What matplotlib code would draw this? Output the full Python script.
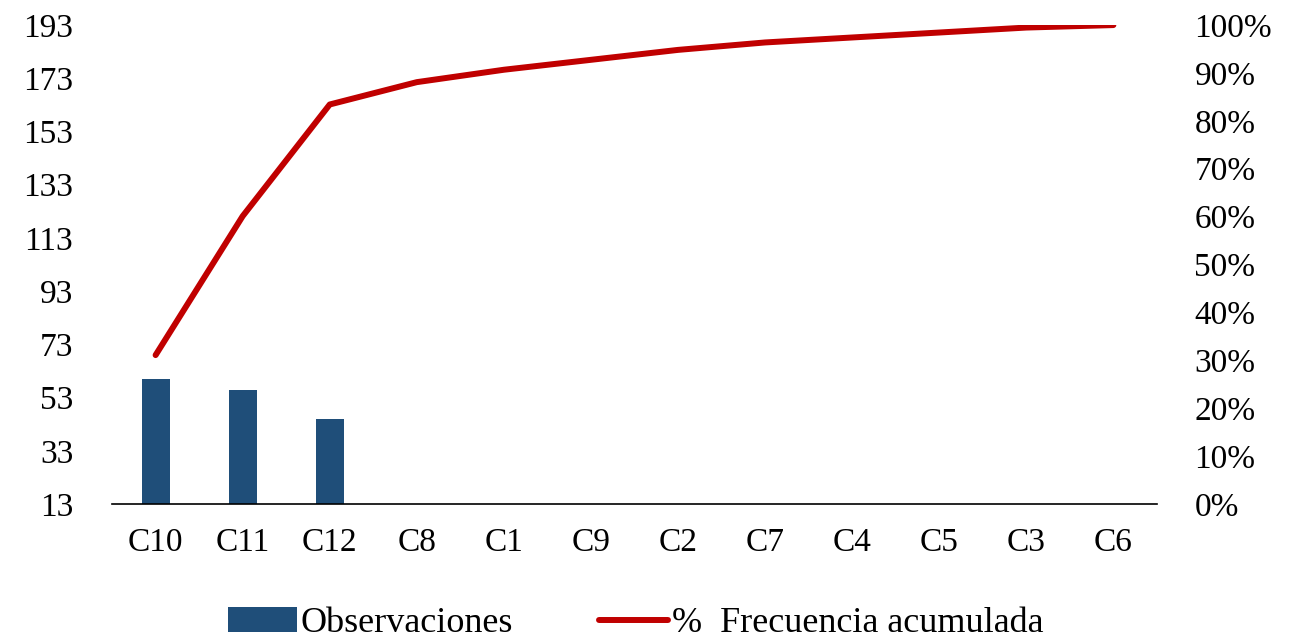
import matplotlib
matplotlib.use("Agg")
import matplotlib.pyplot as plt
from matplotlib.ticker import FuncFormatter
import numpy as np

categories = ["C10", "C11", "C12", "C8", "C1", "C9", "C2", "C7", "C4", "C5", "C3", "C6"]
observaciones = [60, 56, 45, 9, 5, 4, 4, 3, 2, 2, 2, 1]
left_ticks = [13, 33, 53, 73, 93, 113, 133, 153, 173, 193]
right_ticks = [0, 10, 20, 30, 40, 50, 60, 70, 80, 90, 100]

total = sum(observaciones)
acumulada = np.cumsum(observaciones) / total * 100

plt.rcParams["font.family"] = ["Liberation Serif", "DejaVu Serif"]

bar_color = "#1F4E79"
line_color = "#C00000"

fig = plt.figure(figsize=(12.97, 6.43), dpi=100)
ax = fig.add_axes([0.0864, 0.2162, 0.8056, 0.7448])
x = np.arange(len(categories))

bars = ax.bar(x, observaciones, width=0.32, color=bar_color, label="Observaciones", zorder=2)
ax.set_xlim(-0.5, len(categories) - 0.5)
ax.set_ylim(13, 193)
ax.set_yticks(left_ticks)
ax.set_xticks(x)
ax.set_xticklabels(categories)
ax.tick_params(axis="y", length=0, pad=28, labelsize=24)
ax.tick_params(axis="x", length=0, pad=17, labelsize=24)
for side in ["top", "left", "right"]:
    ax.spines[side].set_visible(False)
ax.spines["bottom"].set_color("black")
ax.spines["bottom"].set_linewidth(1.2)

ax2 = ax.twinx()
line, = ax2.plot(x, acumulada, color=line_color, lw=4.3, solid_capstyle="round",
                 label="%  Frecuencia acumulada", zorder=3)
ax2.set_ylim(0, 100)
ax2.set_yticks(right_ticks)
ax2.yaxis.set_major_formatter(FuncFormatter(lambda v, p: f"{v:.0f}%"))
ax2.tick_params(axis="y", length=0, pad=27, labelsize=24)
for side in ["top", "left", "right", "bottom"]:
    ax2.spines[side].set_visible(False)

fig.legend([bars, line], ["Observaciones", "%  Frecuencia acumulada"],
           loc="center", bbox_to_anchor=(0.49, 0.03), ncol=2, frameon=False,
           fontsize=26, handlelength=1.9, handletextpad=0.1, columnspacing=2.4,
           borderpad=0.1)

fig.savefig("out.png", dpi=100)
